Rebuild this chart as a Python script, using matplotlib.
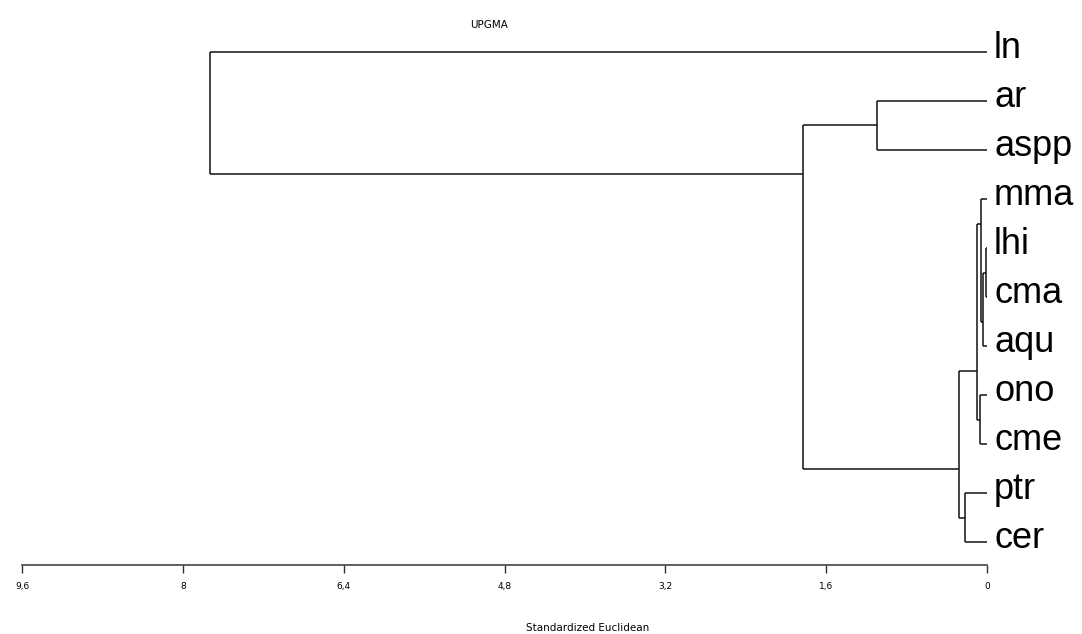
import matplotlib
matplotlib.use("Agg")
import matplotlib.pyplot as plt
from matplotlib.ticker import FuncFormatter

# leaves, top to bottom
leaves = ['ln', 'ar', 'aspp', 'mma', 'lhi', 'cma', 'aqu', 'ono', 'cme', 'ptr', 'cer']

# UPGMA merges: (left node, right node, distance); new nodes numbered from len(leaves)
merge_left = [4, 11, 3, 7, 13, 9, 15, 1, 18, 0]
merge_right = [5, 6, 12, 8, 14, 10, 16, 2, 17, 19]
merge_dist = [0.01, 0.04, 0.06, 0.07, 0.10, 0.22, 0.28, 1.09, 1.83, 7.73]

tick_vals = [9.6, 8, 6.4, 4.8, 3.2, 1.6, 0]

fig = plt.figure(figsize=(10.82, 6.34), dpi=100)
ax = fig.add_axes([22 / 1082, 69 / 634, 965 / 1082, 565 / 634])

n = len(leaves)
height = {i: 0.0 for i in range(n)}
lo = {i: i for i in range(n)}
hi = {i: i for i in range(n)}
attach = {i: float(i) for i in range(n)}

line_kw = dict(color='#111111', lw=1.1, solid_capstyle='butt')

for k, (a, b, d) in enumerate(zip(merge_left, merge_right, merge_dist)):
    node = n + k
    # vertical link between the two children
    ax.plot([d, d], [attach[a], attach[b]], **line_kw)
    # horizontal stems from each child
    for c in (a, b):
        ax.plot([height[c], d], [attach[c], attach[c]], **line_kw)
    height[node] = d
    lo[node] = min(lo[a], lo[b])
    hi[node] = max(hi[a], hi[b])
    attach[node] = (hi[a] + lo[b]) / 2

for i, name in enumerate(leaves):
    ax.text(-0.07, i - 0.08, name, fontsize=26, ha='left', va='center',
            family='Liberation Sans', clip_on=False)

ax.set_xlim(9.6, 0)
ax.set_ylim(10.469, -1.061)
for s in ['top', 'left', 'right']:
    ax.spines[s].set_visible(False)
ax.spines['bottom'].set_color('#444444')
ax.spines['bottom'].set_linewidth(1.2)
ax.set_yticks([])
ax.set_xticks(tick_vals)
ax.xaxis.set_major_formatter(FuncFormatter(lambda v, p: ('%g' % v).replace('.', ',')))
ax.tick_params(axis='x', direction='out', length=6, width=1, color='#333333',
               labelsize=6.5, pad=6)

fig.text(489 / 1082, 1 - 25 / 634, 'UPGMA', ha='center', va='center', fontsize=7.5)
fig.text(588 / 1082, 1 - 628 / 634, 'Standardized Euclidean', ha='center', va='center',
         fontsize=7.5)

fig.savefig('out.png', dpi=100)
